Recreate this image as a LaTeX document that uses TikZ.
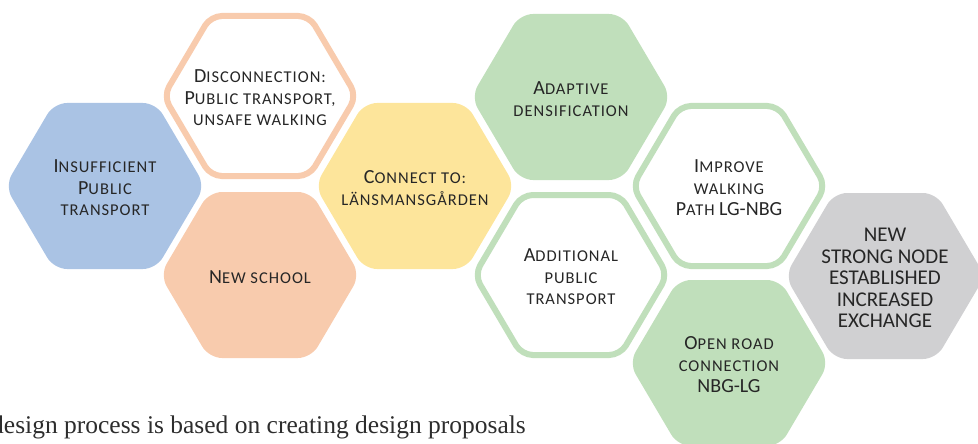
\documentclass[tikz,border=0pt]{standalone}
\usepackage{fontspec}
\setmainfont{Carlito}
\newfontfamily\captionserif{Liberation Serif}
\definecolor{hexblue}{RGB}{170,195,228}
\definecolor{hexsalmon}{RGB}{248,203,173}
\definecolor{hexyellow}{RGB}{253,229,155}
\definecolor{hexgreen}{RGB}{192,223,187}
\definecolor{hexgray}{RGB}{208,208,210}
\definecolor{txt}{RGB}{38,38,38}
\definecolor{captxt}{RGB}{45,45,45}
\newcommand\sm[1]{{\fontsize{16.5}{21.5}\selectfont\addfontfeature{LetterSpace=6}#1}}
\newcommand\hexpath[4]{% #1 options, #2 centre, #3 a, #4 h ; b = a - 0.59 h
  \path[#1, shift={(#2)}] (0,-#4) -- ({#3-0.59*#4},-#4) -- (#3,0) -- ({#3-0.59*#4},#4)
     -- ({-#3+0.59*#4},#4) -- (-#3,0) -- ({-#3+0.59*#4},-#4) -- cycle;}
\newcommand\hexfilled[2]{\hexpath{fill=#2, rounded corners=13pt}{#1}{100}{83}}
\newcommand\hexoutline[2]{\hexpath{draw=#2, fill=white, line width=6pt, rounded corners=11pt}{#1}{96.5}{80}}
\tikzset{
  hexlabel/.style={text=txt, align=center, inner sep=0pt, yshift=-2pt,
    font=\fontsize{20}{21.5}\selectfont},
}
\begin{document}
\begin{tikzpicture}[x=1pt, y=-1pt]
\useasboundingbox (0,0) rectangle (978,444);
\clip (0,0) rectangle (978,444);
% centres
\coordinate (c1) at (105,186);
\coordinate (c2) at (260,96);
\coordinate (c3) at (260,275);
\coordinate (c4) at (415,186);
\coordinate (c5) at (571,97);
\coordinate (c6) at (571,275);
\coordinate (c7) at (729,186);
\coordinate (c8) at (729,363);
\coordinate (c9) at (885,276);
% hexagons
\hexfilled{c1}{hexblue}
\hexoutline{c2}{hexsalmon}
\hexfilled{c3}{hexsalmon}
\hexfilled{c4}{hexyellow}
\hexfilled{c5}{hexgreen}
\hexoutline{c6}{hexgreen}
\hexoutline{c7}{hexgreen}
\hexfilled{c8}{hexgreen}
\hexfilled{c9}{hexgray}
% labels
\node[hexlabel] (n1) at (c1) {I\sm{NSUFFICIENT}\\P\sm{UBLIC}\\\sm{TRANSPORT}};
\node[hexlabel] (n2) at (c2) {D\sm{ISCONNECTION:}\\P\sm{UBLIC TRANSPORT,}\\\sm{UNSAFE WALKING}};
\node[hexlabel] (n3) at (c3) {N\sm{EW SCHOOL}};
\node[hexlabel] (n4) at (c4) {C\sm{ONNECT TO:}\\\sm{LÄNSMANSGÅRDEN}};
\node[hexlabel] (n5) at (c5) {A\sm{DAPTIVE}\\\sm{DENSIFICATION}};
\node[hexlabel] (n6) at (c6) {A\sm{DDITIONAL}\\\sm{PUBLIC}\\\sm{TRANSPORT}};
\node[hexlabel] (n7) at (c7) {I\sm{MPROVE}\\\sm{WALKING}\\P\sm{ATH} LG-NBG};
\node[hexlabel] (n8) at (c8) {O\sm{PEN ROAD}\\\sm{CONNECTION}\\NBG-LG};
\node[hexlabel, font=\fontsize{21}{21.5}\selectfont] (n9) at (c9) {NEW\\STRONG NODE\\ESTABLISHED\\INCREASED\\EXCHANGE};
% caption
\node[anchor=base west, inner sep=0pt, text=captxt, font=\captionserif\fontsize{25.5}{28}\selectfont] (cap) at (-9,433) {design process is based on creating design proposals};
\end{tikzpicture}
\end{document}
